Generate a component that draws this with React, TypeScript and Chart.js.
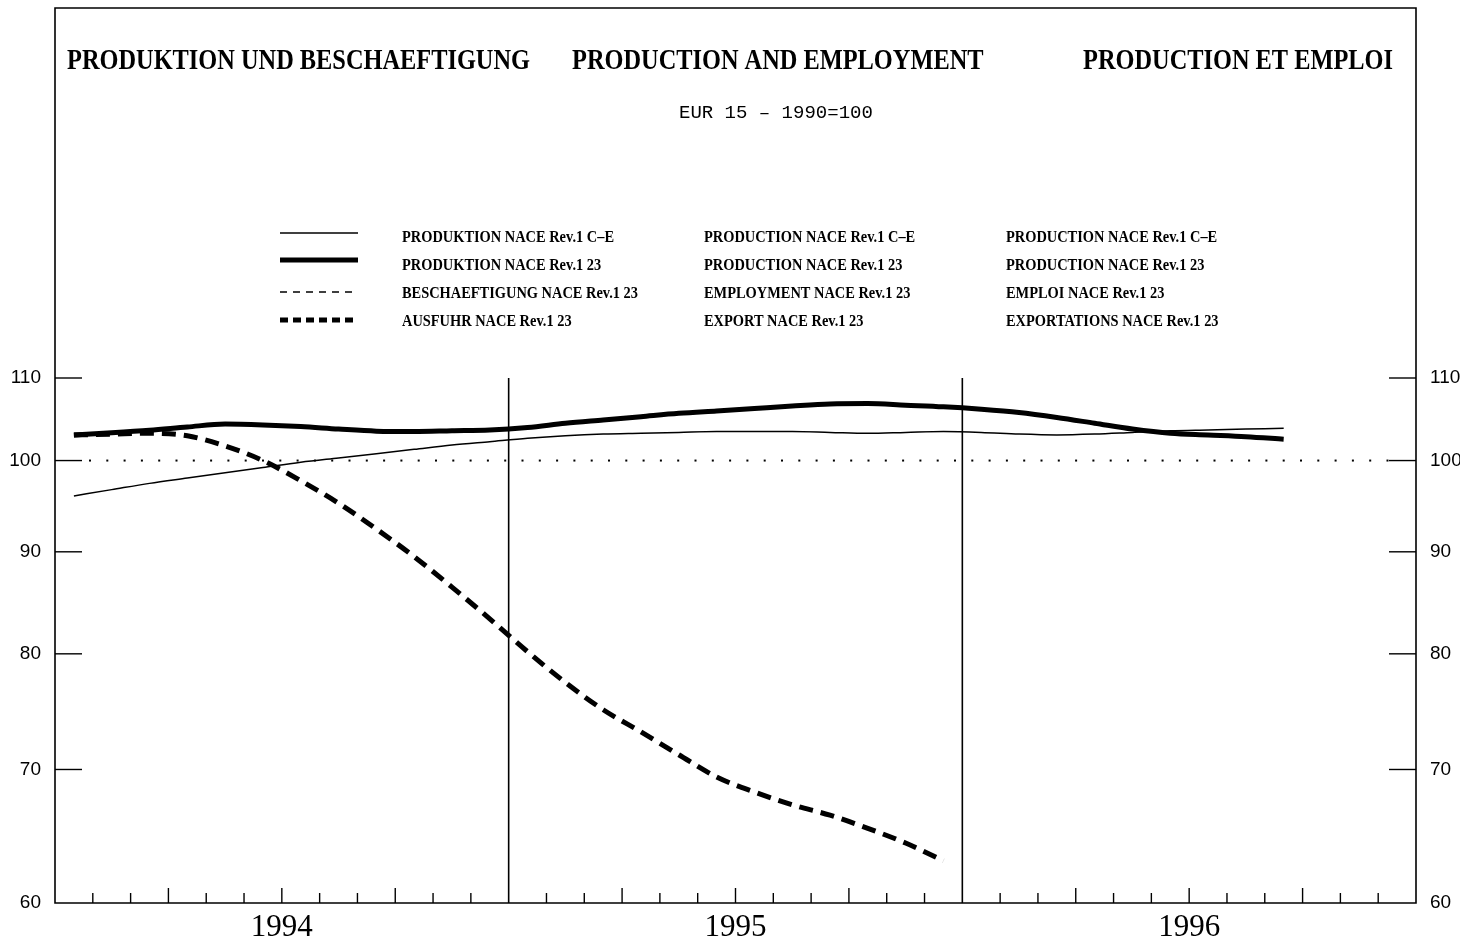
import React, { useEffect, useRef } from "react";
import { Chart, registerables } from "chart.js";

Chart.register(...registerables);

// ---------- data ----------
const YEAR_LABELS = ["1994", "1995", "1996"];
const Y_TICKS = [60, 70, 80, 90, 100, 110];

const TITLES = ["PRODUKTION UND BESCHAEFTIGUNG", "PRODUCTION AND EMPLOYMENT", "PRODUCTION ET EMPLOI"];
const SUBTITLE = "EUR 15 – 1990=100";

const LEGEND_DE = ["PRODUKTION NACE Rev.1 C–E", "PRODUKTION NACE Rev.1 23", "BESCHAEFTIGUNG NACE Rev.1 23", "AUSFUHR NACE Rev.1 23"];
const LEGEND_EN = ["PRODUCTION NACE Rev.1 C–E", "PRODUCTION NACE Rev.1 23", "EMPLOYMENT NACE Rev.1 23", "EXPORT NACE Rev.1 23"];
const LEGEND_FR = ["PRODUCTION NACE Rev.1 C–E", "PRODUCTION NACE Rev.1 23", "EMPLOI NACE Rev.1 23", "EXPORTATIONS NACE Rev.1 23"];

// monthly values, Jan 1994 onwards
const PROD_CE = [96.0, 96.7, 97.4, 98.0, 98.6, 99.2, 99.8, 100.3, 100.8, 101.3, 101.8, 102.2, 102.6, 102.9, 103.1, 103.2, 103.3, 103.4, 103.4, 103.4, 103.3, 103.2, 103.3, 103.4, 103.3, 103.1, 103.0, 103.1, 103.3, 103.5, 103.6, 103.7, 103.8];
const PROD_23 = [103.0, 103.25, 103.55, 103.95, 104.3, 104.2, 104.0, 103.7, 103.45, 103.4, 103.5, 103.6, 103.9, 104.4, 104.8, 105.2, 105.6, 105.9, 106.2, 106.5, 106.75, 106.8, 106.6, 106.4, 106.1, 105.7, 105.1, 104.4, 103.7, 103.2, 103.0, 102.8, 102.5];
const EMPL_23: number[] = [];
const EXPORT_23 = [103.0, 103.1, 103.2, 102.9, 101.7, 100.0, 97.7, 95.2, 92.4, 89.5, 86.4, 83.3, 80.2, 77.4, 75.0, 73.1, 71.2, 69.4, 68.2, 67.2, 66.4, 65.4, 64.3, 63.0];

const toPoints = (arr: number[]) => arr.map((v, i) => ({ x: i + 0.5, y: v }));

const SERIF = '"Liberation Serif", "Times New Roman", serif';

const decorPlugin = {
  id: "decor",
  beforeDatasetsDraw(chart: any) {
    const { ctx, chartArea: a, scales } = chart;
    const xs = scales.x;
    const ys = scales.y;
    const frameTop = 8;
    const line = (x1: number, y1: number, x2: number, y2: number) => {
      ctx.beginPath();
      ctx.moveTo(x1, y1);
      ctx.lineTo(x2, y2);
      ctx.stroke();
    };
    ctx.save();
    ctx.strokeStyle = "#000";
    ctx.fillStyle = "#000";
    ctx.lineWidth = 1.6;
    // frame
    ctx.beginPath();
    ctx.moveTo(a.left, a.bottom);
    ctx.lineTo(a.left, frameTop);
    ctx.lineTo(a.right, frameTop);
    ctx.lineTo(a.right, a.bottom);
    ctx.closePath();
    ctx.stroke();
    // y tick marks
    ctx.lineWidth = 1.4;
    Y_TICKS.slice(1).forEach((v) => {
      const py = ys.getPixelForValue(v);
      line(a.left, py, a.left + 27, py);
      line(a.right - 27, py, a.right, py);
    });
    // month ticks and year separators
    const top110 = ys.getPixelForValue(Y_TICKS[Y_TICKS.length - 1]);
    for (let m = 1; m < YEAR_LABELS.length * 12; m++) {
      const px = xs.getPixelForValue(m);
      if (m % 12 === 0) {
        ctx.lineWidth = 1.6;
        line(px, top110, px, a.bottom);
      } else {
        ctx.lineWidth = 1.4;
        line(px, a.bottom, px, a.bottom - (m % 3 === 0 ? 15 : 10));
      }
    }
    // dotted reference line at 100
    const p100 = ys.getPixelForValue(100);
    for (let px = a.left + 35; px < a.right - 25; px += 17.3) {
      ctx.fillRect(px - 1, p100 - 1, 2, 2);
    }
    ctx.restore();
  },
  afterDraw(chart: any) {
    const { ctx } = chart;
    ctx.save();
    ctx.fillStyle = "#000";
    ctx.textBaseline = "alphabetic";
    ctx.textAlign = "left";

    // titles
    ctx.font = `bold 30px ${SERIF}`;
    const tf = 463 / ctx.measureText(TITLES[0]).width;
    const titleX = [67, 572, 1083];
    TITLES.forEach((t, i) => {
      ctx.fillText(t, titleX[i], 69, ctx.measureText(t).width * tf);
    });

    // subtitle
    ctx.font = `19px "Liberation Mono", "Courier New", monospace`;
    ctx.fillText(SUBTITLE, 679, 118, 199);

    // legend
    const ds = chart.data.datasets;
    const rowsY = [236, 264, 292, 320];
    const sampleY = [233, 260, 292, 320];
    const legendDash = [[], [], [7, 6], [8, 5]];
    ctx.font = `bold 16px ${SERIF}`;
    const lf = 212 / ctx.measureText(LEGEND_DE[0]).width;
    const cols = [LEGEND_DE, LEGEND_EN, LEGEND_FR];
    const colX = [402, 704, 1006];
    ds.forEach((d: any, i: number) => {
      ctx.save();
      ctx.strokeStyle = "#000";
      ctx.lineWidth = d.borderWidth;
      ctx.setLineDash(legendDash[i]);
      ctx.beginPath();
      ctx.moveTo(280, sampleY[i]);
      ctx.lineTo(358, sampleY[i]);
      ctx.stroke();
      ctx.restore();
      cols.forEach((c, j) => {
        ctx.fillText(c[i], colX[j], rowsY[i] + 6, ctx.measureText(c[i]).width * lf);
      });
    });
    ctx.restore();
  },
};

export default function App() {
  const ref = useRef<HTMLCanvasElement | null>(null);

  useEffect(() => {
    if (!ref.current) return;
    const yCommon = {
      type: "logarithmic" as const,
      min: 60,
      max: 110,
      afterBuildTicks: (s: any) => {
        s.ticks = Y_TICKS.map((v) => ({ value: v }));
      },
      grid: { display: false, drawTicks: false },
      border: { display: false },
      ticks: {
        autoSkip: false,
        padding: 14,
        color: "#000",
        font: { family: '"Liberation Sans", Arial, sans-serif', size: 19 },
        callback: (v: any) => String(v),
      },
    };
    const chart = new Chart(ref.current, {
      type: "line",
      data: {
        datasets: [
          {
            label: LEGEND_EN[0],
            data: toPoints(PROD_CE),
            borderColor: "#000",
            borderWidth: 1.5,
            pointRadius: 0,
            cubicInterpolationMode: "monotone",
            fill: false,
          },
          {
            label: LEGEND_EN[1],
            data: toPoints(PROD_23),
            borderColor: "#000",
            borderWidth: 5,
            pointRadius: 0,
            cubicInterpolationMode: "monotone",
            fill: false,
          },
          {
            label: LEGEND_EN[2],
            data: toPoints(EMPL_23),
            borderColor: "#000",
            borderWidth: 1.5,
            borderDash: [7, 6],
            pointRadius: 0,
            cubicInterpolationMode: "monotone",
            fill: false,
          },
          {
            label: LEGEND_EN[3],
            data: toPoints(EXPORT_23),
            borderColor: "#000",
            borderWidth: 5,
            borderDash: [14, 8],
            borderCapStyle: "butt",
            pointRadius: 0,
            cubicInterpolationMode: "monotone",
            fill: false,
          },
        ],
      } as any,
      options: {
        animation: false,
        responsive: false,
        devicePixelRatio: 1,
        layout: { padding: { top: 378, left: 0, right: 0, bottom: 0 } },
        plugins: { legend: { display: false }, title: { display: false }, tooltip: { enabled: false } },
        scales: {
          x: {
            type: "linear",
            min: 0,
            max: YEAR_LABELS.length * 12,
            afterBuildTicks: (s: any) => {
              s.ticks = YEAR_LABELS.map((_, i) => ({ value: i * 12 + 6 }));
            },
            afterFit: (s: any) => {
              s.height = 44;
            },
            grid: { display: false, drawTicks: false },
            border: { display: false },
            ticks: {
              autoSkip: false,
              maxRotation: 0,
              padding: 6,
              color: "#000",
              font: { family: SERIF, size: 31 },
              callback: (v: any) => YEAR_LABELS[Math.floor(Number(v) / 12)] ?? "",
            },
          },
          y: {
            ...yCommon,
            position: "left",
            afterFit: (s: any) => {
              s.width = 55;
            },
          },
          y2: {
            ...yCommon,
            position: "right",
            afterFit: (s: any) => {
              s.width = 44;
            },
          },
        } as any,
      },
      plugins: [decorPlugin],
    });
    return () => chart.destroy();
  }, []);

  return (
    <div style={{ position: "absolute", left: 0, top: 0, width: 1460, height: 947, background: "#fff" }}>
      <canvas ref={ref} width={1460} height={947} style={{ display: "block" }} />
    </div>
  );
}
